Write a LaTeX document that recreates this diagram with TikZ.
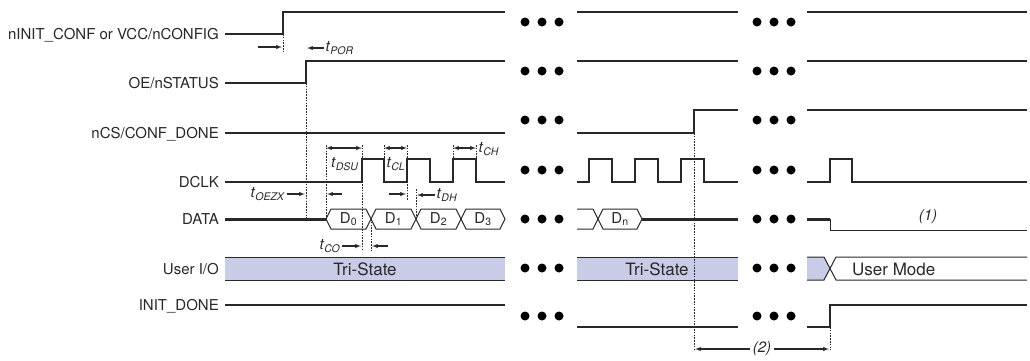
\documentclass[tikz,border=0pt]{standalone}
\usepackage{fontspec}
\setmainfont{TeX Gyre Heros}
\usepackage{xcolor}
\usepackage{tikz}
\usetikzlibrary{arrows}

\definecolor{wire}{RGB}{40,40,40}
\definecolor{tristate}{RGB}{200,204,230}
\newcommand{\tname}[1]{\textit{t}\textsubscript{\textit{#1}}}
\newcommand{\dname}[1]{D\textsubscript{#1}}

\begin{document}
\begin{tikzpicture}[x=1pt, y=-1pt, color=wire, font=\fontsize{15}{18}\selectfont]
    % Define the styles for the waveforms
    \tikzstyle{signame} = [anchor=base east, inner sep=0pt, yshift=-5.4pt]
    \tikzstyle{wave} = [draw=wire, line width=1.2pt]
    \tikzstyle{word} = [draw=wire, line width=1pt, line join=miter]
    \tikzstyle{bus} = [draw=wire, line width=3pt]
    \tikzstyle{guide} = [draw=wire, line width=0.9pt, dash pattern=on 1.6pt off 1.2pt]
    \tikzstyle{tarrow} = [draw=wire, line width=1.1pt, -latex']
    \tikzstyle{tboth} = [draw=wire, line width=1.1pt, latex'-latex']
    \tikzstyle{tlabel} = [inner sep=1.5pt]
    \tikzstyle{note} = [font=\fontsize{15}{18}\selectfont\itshape]
    \tikzstyle{buslabel} = [inner sep=0pt, font=\fontsize{17}{20}\selectfont]

    \useasboundingbox (0,0) rectangle (1030,360);

    % Place the signal names
    \node [signame] (vcc) at (219,34) {nINIT\_CONF or VCC/nCONFIG};
    \node [signame] (oe) at (219,83) {OE/nSTATUS};
    \node [signame] (cs) at (219,133) {nCS/CONF\_DONE};
    \node [signame] (dclk) at (219,182) {DCLK};
    \node [signame] (data) at (219,219) {DATA};
    \node [signame] (userio) at (219,269) {User I/O};
    \node [signame] (initdone) at (219,305) {INIT\_DONE};

    % nINIT_CONF or VCC/nCONFIG
    \draw [wave] (225,34) -| (283,12) -- (505,12);
    \draw [wave] (577,12) -- (738,12);
    \draw [wave] (807,12) -- (1027,12);

    % OE/nSTATUS
    \draw [wave] (225,83) -| (306,61) -- (505,61);
    \draw [wave] (577,61) -- (738,61);
    \draw [wave] (807,61) -- (1027,61);

    % nCS/CONF_DONE
    \draw [wave] (225,133) -- (505,133);
    \draw [wave] (577,133) -| (694,110) -- (738,110);
    \draw [wave] (807,110) -- (1027,110);

    % DCLK
    \draw [wave] (225,182) -| (362,159) -| (384,182) -| (407,159) -| (430,182) -| (453,159) -| (476,182) -- (505,182);
    \draw [wave] (577,182) -| (589,159) -| (612,182) -| (635,159) -| (658,182) -| (681,159) -| (704,182) -- (738,182);
    \draw [wave] (807,182) -| (830,159) -| (852,182) -- (1027,182);

    % DATA
    \draw [bus] (225,219) -- (326,219);
    \foreach \a/\b/\n in {326/371/0, 371/416/1, 416/461/2, 461/505/3} {
        \draw [word] (\a,219) -- (\a+5,209) -- (\b-5,209) -- (\b,219) -- (\b-5,229) -- (\a+5,229) -- cycle;
        \node [inner sep=0pt] (d\n) at ({(\a+\b)/2},219) {\dname{\n}};
    }
    \draw [word] (577,209) -- (593,209) -- (598,219) -- (593,229) -- (577,229);
    \draw [word] (598,219) -- (603,209) -- (637,209) -- (642,219) -- (637,229) -- (603,229) -- cycle;
    \node [inner sep=0pt] (dn) at (620,219) {\dname{n}};
    \draw [bus] (642,219) -- (738,219);
    \draw [bus] (807,219) -- (830,219);
    \draw [word] (830,219) -- (830,230) -- (1027,230);
    \node [note] (note1) at (928,217) {(1)};

    % User I/O
    \fill [tristate] (225,257) rectangle (505,280);
    \draw [word] (225,257) -- (505,257) (225,280) -- (505,280);
    \node [buslabel] (hiz1) at (365,269) {Tri-State};
    \fill [tristate] (577,257) rectangle (738,280);
    \draw [word] (577,257) -- (738,257) (577,280) -- (738,280);
    \node [buslabel] (hiz2) at (657,269) {Tri-State};
    \fill [tristate] (807,257) -- (824,257) -- (830,268.5) -- (824,280) -- (807,280) -- cycle;
    \draw [word] (807,257) -- (824,257) -- (836,280) -- (1027,280);
    \draw [word] (807,280) -- (824,280) -- (836,257) -- (1027,257);
    \node [buslabel, anchor=west] (usermode) at (852,269) {User Mode};

    % INIT_DONE
    \draw [wave] (225,305) -- (505,305);
    \draw [wave] (577,327) -- (738,327);
    \draw [wave] (807,327) -| (830,305) -- (1027,305);

    % Time breaks
    \foreach \y in {22,71,120,170,219,268,316}
        \foreach \x in {525,542,559,757,774,791}
            \fill [black] (\x,\y) circle (4.5pt);

    % Timing guides
    \draw [guide] (283,34) -- (283,52);
    \draw [guide] (306,83) -- (306,219);
    \draw [guide] (326,145) -- (326,219);
    \draw [guide] (362,145) -- (362,250);
    \draw [guide] (384,145) -- (384,159);
    \draw [guide] (407,145) -- (407,200);
    \draw [guide] (453,145) -- (453,159);
    \draw [guide] (476,145) -- (476,159);
    \draw [guide] (416,189) -- (416,219);
    \draw [guide] (371,219) -- (371,250);
    \draw [guide] (694,133) -- (694,350);
    \draw [guide] (830,327) -- (830,350);

    % Timing arrows and labels
    \coordinate (vccmark) at (258,47);
    \draw [tarrow] (vccmark) -- (282,47);
    \node [tlabel, anchor=west] (tpor) at (324,48) {\tname{POR}};
    \draw [tarrow] (tpor.west) -- (307,48);

    \draw [tboth] (326,148) -- (362,148);
    \node [tlabel] (tdsu) at (345,164) {\tname{DSU}};
    \draw [tboth] (384,148) -- (407,148);
    \node [tlabel] (tcl) at (396,164) {\tname{CL}};
    \draw [tboth] (453,148) -- (476,148);
    \node [tlabel, anchor=west] (tch) at (477,149) {\tname{CH}};

    \node [tlabel, anchor=east] (toezx) at (287,194) {\tname{OEZX}};
    \draw [tarrow] (toezx.east) -- (305,194);
    \coordinate (oezxmark) at (342,194);
    \draw [tarrow] (oezxmark) -- (327,194);

    \coordinate (dhmark) at (389,194);
    \draw [tarrow] (dhmark) -- (406,194);
    \node [tlabel, anchor=west] (tdh) at (435,195) {\tname{DH}};
    \draw [tarrow] (tdh.west) -- (417,195);

    \node [tlabel, anchor=east] (tco) at (342,246) {\tname{CO}};
    \draw [tarrow] (tco.east) -- (361,246);
    \coordinate (comark) at (388,246);
    \draw [tarrow] (comark) -- (372,246);

    \node [fill=white, inner sep=3pt, note] (note2) at (762,349) {(2)};
    \draw [tarrow] (note2.west) -- (695,349);
    \draw [tarrow] (note2.east) -- (829,349);
\end{tikzpicture}
\end{document}
